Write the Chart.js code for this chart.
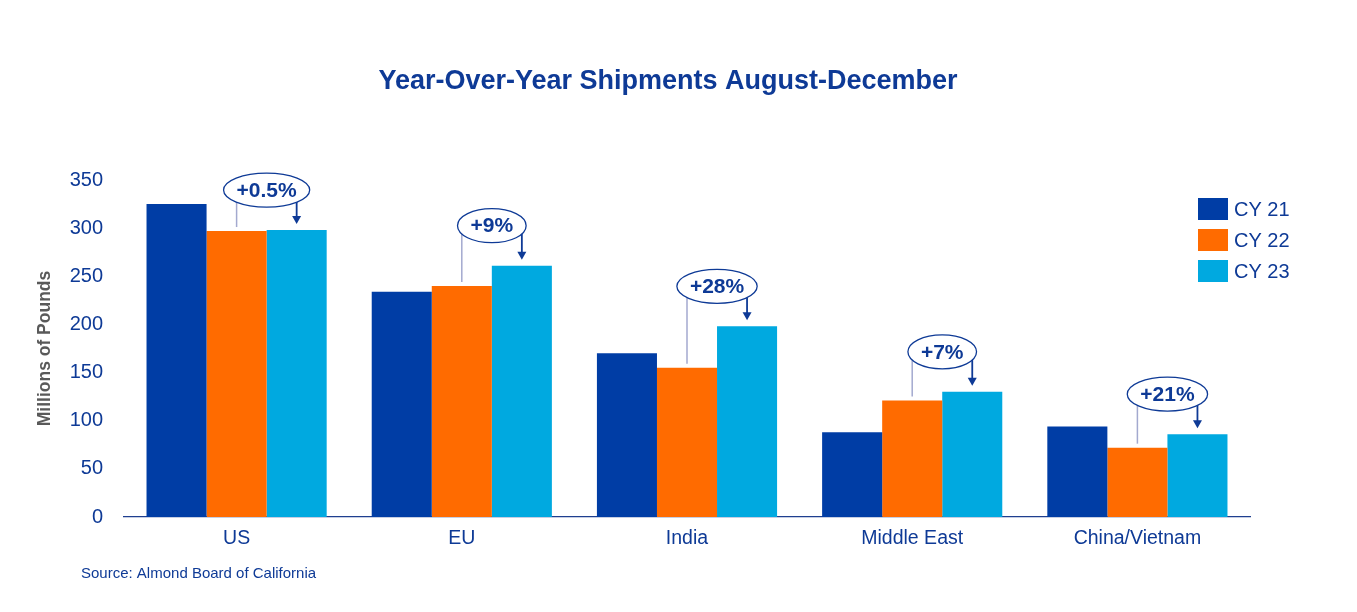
<!DOCTYPE html>
<html>
<head>
<meta charset="utf-8">
<script src="https://cdn.jsdelivr.net/npm/chart.js@4.4.1/dist/chart.umd.min.js"></script>
<style>
html,body{margin:0;padding:0;background:#fff;}
#wrap{width:1357px;height:612px;position:relative;}
</style>
</head>
<body>
<div id="wrap"><canvas id="c"></canvas></div>
<script>
const categories = ["US", "EU", "India", "Middle East", "China/Vietnam"];
const seriesLabels = ["CY 21", "CY 22", "CY 23"];
const cy21 = [325, 234, 170, 88, 94];
const cy22 = [297, 240, 155, 121, 72];
const cy23 = [298, 261, 198, 130, 86];
const changeLabels = ["+0.5%", "+9%", "+28%", "+7%", "+21%"];
const yTicks = [0, 50, 100, 150, 200, 250, 300, 350];
const titleText = "Year-Over-Year Shipments August-December";
const sourceText = "Source: Almond Board of California";

const colors = ["#003DA5", "#FF6B00", "#00A9E0"];
const navy = "#0E3A96";
const FONT = "'Liberation Sans', Arial, Helvetica, sans-serif";

const annotationPlugin = {
  id: 'yoyAnnotations',
  afterDatasetsDraw(chart) {
    const ctx = chart.ctx;
    const m22 = chart.getDatasetMeta(1);
    const m23 = chart.getDatasetMeta(2);
    ctx.save();
    changeLabels.forEach((txt, i) => {
      const b22 = m22.data[i], b23 = m23.data[i];
      const x22 = b22.x, x23 = b23.x;
      const cx = (x22 + x23) / 2;
      const cy = b23.y - 40;
      ctx.font = "bold 21px " + FONT;
      const tw = ctx.measureText(txt).width;
      const rx = tw / 2 + 13, ry = 17;
      // gray connector line to CY22 bar
      ctx.strokeStyle = "#A3A9CF";
      ctx.lineWidth = 1.5;
      ctx.beginPath();
      ctx.moveTo(x22, cy);
      ctx.lineTo(x22, b22.y - 4);
      ctx.stroke();
      // arrow to CY23 bar
      ctx.strokeStyle = navy;
      ctx.fillStyle = navy;
      ctx.lineWidth = 1.8;
      const tipY = b23.y - 6;
      ctx.beginPath();
      ctx.moveTo(x23, cy);
      ctx.lineTo(x23, tipY - 6);
      ctx.stroke();
      ctx.beginPath();
      ctx.moveTo(x23 - 4.5, tipY - 8);
      ctx.lineTo(x23 + 4.5, tipY - 8);
      ctx.lineTo(x23, tipY);
      ctx.closePath();
      ctx.fill();
      // ellipse
      ctx.beginPath();
      ctx.ellipse(cx, cy, rx, ry, 0, 0, Math.PI * 2);
      ctx.fillStyle = "#fff";
      ctx.fill();
      ctx.strokeStyle = navy;
      ctx.lineWidth = 1.3;
      ctx.stroke();
      ctx.fillStyle = navy;
      ctx.textAlign = "center";
      ctx.textBaseline = "middle";
      ctx.fillText(txt, cx, cy + 1);
    });
    ctx.restore();
  },
  afterDraw(chart) {
    const ctx = chart.ctx;
    ctx.save();
    // title
    ctx.font = "bold 27px " + FONT;
    ctx.fillStyle = navy;
    ctx.textAlign = "center";
    ctx.textBaseline = "middle";
    ctx.fillText(titleText, 668, 82);
    // legend
    const ds = chart.data.datasets;
    ds.forEach((d, i) => {
      const y = 198 + i * 31;
      ctx.fillStyle = d.backgroundColor;
      ctx.fillRect(1198, y, 30, 22);
      ctx.fillStyle = navy;
      ctx.font = "20px " + FONT;
      ctx.textAlign = "left";
      ctx.textBaseline = "middle";
      ctx.fillText(d.label, 1234, y + 12);
    });
    // source
    ctx.font = "15px " + FONT;
    ctx.fillStyle = navy;
    ctx.textAlign = "left";
    ctx.textBaseline = "middle";
    ctx.fillText(sourceText, 81, 574);
    ctx.restore();
  }
};

new Chart(document.getElementById('c'), {
  type: 'bar',
  data: {
    labels: categories,
    datasets: [
      { label: seriesLabels[0], data: cy21, backgroundColor: colors[0] },
      { label: seriesLabels[1], data: cy22, backgroundColor: colors[1] },
      { label: seriesLabels[2], data: cy23, backgroundColor: colors[2] }
    ]
  },
  options: {
    responsive: true,
    maintainAspectRatio: false,
    animation: false,
    devicePixelRatio: 1,
    layout: { padding: { top: 180, right: 107, bottom: 0, left: 0 } },
    datasets: { bar: { categoryPercentage: 0.8, barPercentage: 1.0 } },
    plugins: {
      legend: { display: false },
      tooltip: { enabled: false },
      title: { display: false }
    },
    scales: {
      x: {
        grid: { display: false, drawTicks: false },
        border: { display: true, color: "#1F3F8F", width: 1.2 },
        ticks: { color: navy, font: { family: FONT, size: 19.5 }, padding: 10 },
        afterFit(s) { s.height = 95; }
      },
      y: {
        min: 0, max: 350,
        afterBuildTicks(s) { s.ticks = yTicks.map(v => ({ value: v })); },
        grid: { display: false, drawTicks: false },
        border: { display: false },
        ticks: { color: navy, font: { family: FONT, size: 20 }, padding: 21 },
        title: {
          display: true, text: "Millions of Pounds", color: "#595959",
          font: { family: FONT, size: 17.5, weight: 'bold' },
          padding: { top: 35, bottom: 0 }
        },
        afterFit(s) { s.width = 124; }
      }
    }
  },
  plugins: [annotationPlugin]
});
</script>
</body>
</html>
